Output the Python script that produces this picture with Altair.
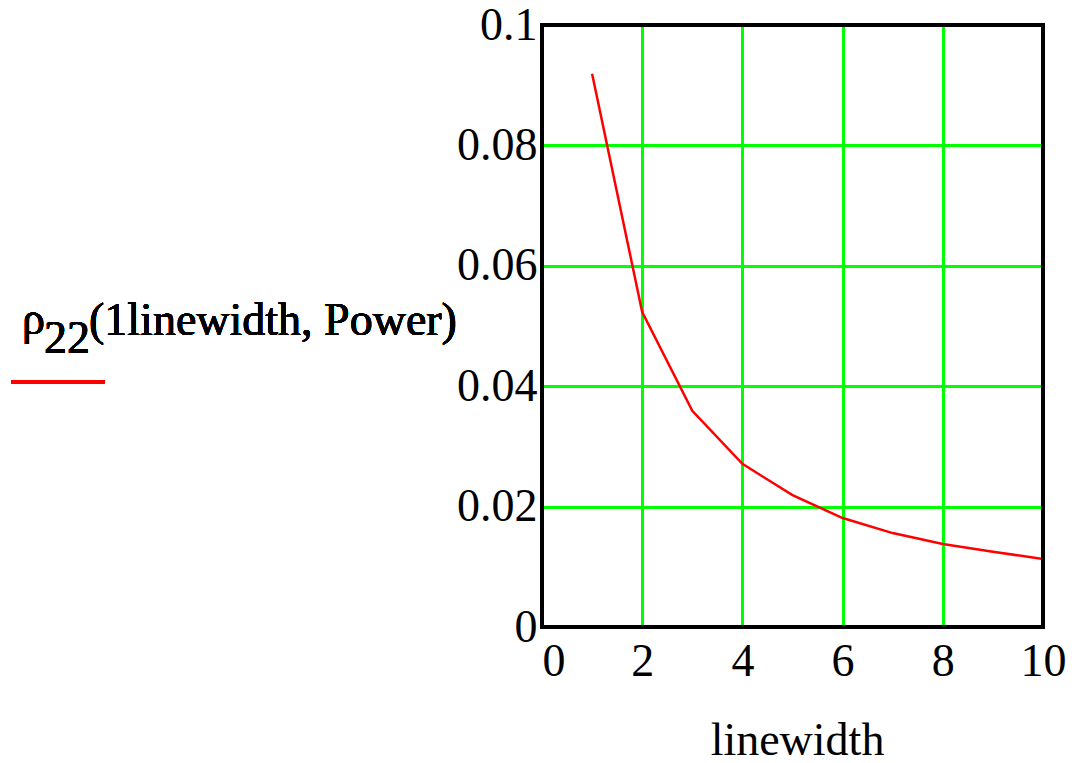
import altair as alt
import pandas as pd

# rho_22 evaluated at integer line widths
linewidth = [1, 2, 3, 4, 5, 6, 7, 8, 9, 10]
rho22 = [0.0919, 0.0523, 0.0359, 0.0271, 0.0219, 0.0181, 0.0156, 0.0138, 0.0125, 0.0113]

x_ticks = [0, 2, 4, 6, 8, 10]
y_ticks = [0, 0.02, 0.04, 0.06, 0.08, 0.1]

FONT = "Liberation Serif"
SIZE = 46
W, H = 501, 602

df = pd.DataFrame({"linewidth": linewidth, "rho22": rho22})

base = alt.Chart(df)

curve = base.mark_line(color="#ff0000", strokeWidth=2.5, clip=True).encode(
    x=alt.X(
        "linewidth:Q",
        scale=alt.Scale(domain=[0, 10], nice=False, zero=False),
        axis=alt.Axis(
            values=x_ticks,
            format="d",
            title="linewidth",
            titleX=255,
            titleY=127,
            titleBaseline="alphabetic",
            labelPadding=12,
            labelFlush=False,
            labelAlign={"condition": {"test": "datum.value === 0", "value": "left"}, "value": "center"},
        ),
    ),
    y=alt.Y(
        "rho22:Q",
        scale=alt.Scale(domain=[0, 0.1], nice=False),
        axis=alt.Axis(values=y_ticks, format="~g", title=None, labelPadding=5),
    ),
)

# legend-style label to the left of the plot: rho, subscript 22, arguments
label_rho = base.mark_text(
    text="ρ", font=FONT, fontSize=SIZE, align="left", baseline="alphabetic", color="black"
).encode(x=alt.value(-520), y=alt.value(309))
label_sub = base.mark_text(
    text="22", font=FONT, fontSize=SIZE, align="left", baseline="alphabetic", color="black"
).encode(x=alt.value(-498), y=alt.value(328))
label_args = base.mark_text(
    text="(1linewidth, Power)", font=FONT, fontSize=SIZE, align="left", baseline="alphabetic", color="black"
).encode(x=alt.value(-453), y=alt.value(310))
legend_line = base.mark_rule(color="#ff0000", strokeWidth=3).encode(
    x=alt.value(-531), x2=alt.value(-437), y=alt.value(357)
)

# heavy frame around the plot area, drawn over the grid
frame = base.mark_rect(filled=False, stroke="black", strokeWidth=4).encode(
    x=alt.value(0), x2=alt.value(W), y=alt.value(0), y2=alt.value(H)
)

chart = (
    alt.layer(curve, label_rho, label_sub, label_args, legend_line, frame)
    .properties(
        width=W,
        height=H,
        autosize=alt.AutoSizeParams(type="none"),
        padding={"left": 542, "top": 25, "right": 39, "bottom": 136},
    )
    .configure_view(strokeWidth=0)
    .configure_axis(
        grid=True,
        gridColor="#00ff00",
        gridWidth=3,
        domain=False,
        ticks=False,
        tickSize=0,
        labelFont=FONT,
        labelFontSize=SIZE,
        labelColor="black",
        titleFont=FONT,
        titleFontSize=SIZE,
        titleFontWeight="normal",
        titleColor="black",
    )
)

chart.save("out.html", embed_options={"renderer": "svg", "actions": False})
